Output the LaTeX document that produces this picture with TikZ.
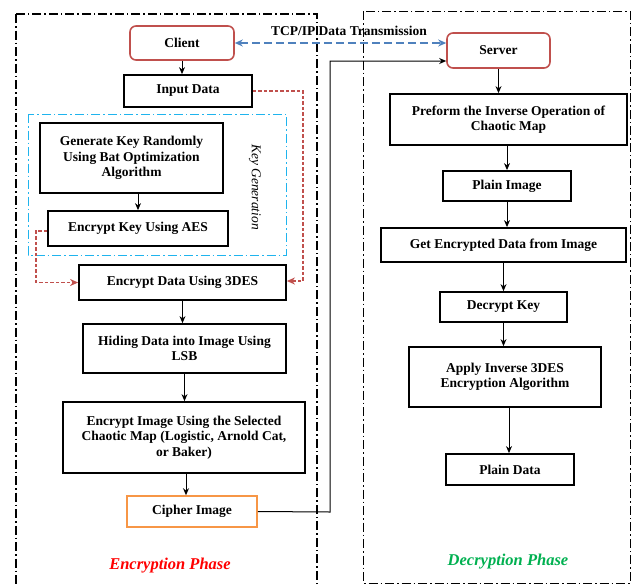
\documentclass[tikz,border=0pt]{standalone}
\usepackage{fontspec}
\setmainfont{Liberation Serif}
\usetikzlibrary{arrows.meta,calc}
\definecolor{boxred}{HTML}{C0504D}
\definecolor{boxorange}{HTML}{F79646}
\definecolor{linkblue}{HTML}{4F81BD}
\definecolor{kgcyan}{HTML}{1FB4EE}
\definecolor{phasered}{HTML}{FF0000}
\definecolor{phasegreen}{HTML}{00B050}
\newcommand\fsz{\fontsize{13.5}{15.5}\selectfont}
\tikzset{
  stepbox/.style={draw, line width=1.8pt, inner sep=0pt, align=center, font=\fsz\bfseries},
  endbox/.style={stepbox, draw=boxred, line width=1.6pt, rounded corners=6pt},
  cipherbox/.style={stepbox, draw=boxorange, line width=1.6pt},
  flow/.style={line width=1pt, -{Stealth[length=7pt,width=6pt]}},
  keyflow/.style={draw=boxred, line width=1.3pt, dash pattern=on 3.5pt off 2pt, -{Stealth[length=8pt,width=7pt]}},
  netflow/.style={draw=linkblue, line width=1.2pt, dash pattern=on 8pt off 4pt, {Stealth[length=8pt,width=7pt]}-{Stealth[length=8pt,width=7pt]}},
  frame/.style={line width=1.2pt, dash pattern=on 9pt off 3pt on 1.5pt off 3pt},
  phase/.style={font=\fontsize{16.5}{18}\selectfont\bfseries\itshape}
}
\begin{document}
\begin{tikzpicture}[x=1pt,y=-1pt]
\clip (0,0) rectangle (634,584);
% frames
\draw[frame] (16,14) rectangle (317,600);
\draw[frame, line width=1pt] (363,11) rectangle (630,583);
\draw[draw=kgcyan, line width=1pt, dash pattern=on 9pt off 3pt on 1.5pt off 3pt] (28,114) rectangle (286,255);
\node[font=\fsz\itshape, rotate=-90] (kglabel) at (255,187) {Key Generation};

% encryption side
\node[endbox, minimum width=104pt, minimum height=34pt] (client) at (182,43) {Client};
\node[stepbox, minimum width=128pt, minimum height=32pt] (input) at (188,91) {Input Data};
\node[stepbox, minimum width=183pt, minimum height=70pt] (gen) at (131.5,158) {Generate Key Randomly\\Using Bat Optimization\\Algorithm};
\node[stepbox, minimum width=180pt, minimum height=35pt] (aes) at (138,228.5) {Encrypt Key Using AES};
\node[stepbox, minimum width=207pt, minimum height=35pt] (des) at (182.5,282.5) {Encrypt Data Using 3DES};
\node[stepbox, minimum width=203pt, minimum height=49pt] (hide) at (184.5,348.5) {Hiding Data into Image Using\\LSB};
\node[stepbox, minimum width=242pt, minimum height=71pt] (encimg) at (184,437.5) {Encrypt Image Using the Selected\\Chaotic Map (Logistic, Arnold Cat,\\or Baker)};
\node[cipherbox, minimum width=130pt, minimum height=31pt] (cipher) at (192,511.5) {Cipher Image};
\node[phase, text=phasered] (encphase) at (170,566) {Encryption Phase};

% decryption side
\node[endbox, minimum width=103pt, minimum height=35pt] (server) at (498.5,50.5) {Server};
\node[stepbox, minimum width=237pt, minimum height=51pt] (inv) at (508.5,119.5) {Preform the Inverse Operation of\\Chaotic Map};
\node[stepbox, minimum width=128pt, minimum height=30pt] (plainimg) at (507,186) {Plain Image};
\node[stepbox, minimum width=245pt, minimum height=34pt] (getenc) at (503.5,245) {Get Encrypted Data from Image};
\node[stepbox, minimum width=127pt, minimum height=30pt] (deckey) at (503.5,307) {Decrypt Key};
\node[stepbox, minimum width=192pt, minimum height=60pt] (apply) at (505,377) {Apply Inverse 3DES\\Encryption Algorithm};
\node[stepbox, minimum width=128pt, minimum height=31pt] (plaindata) at (510,469.5) {Plain Data};
\node[phase, text=phasegreen] (decphase) at (508,562) {Decryption Phase};

\node[font=\fsz\bfseries] (tcp) at (349,31) {TCP/IP Data Transmission};

% connectors
\draw[flow] (client) -- (client |- input.north);
\draw[flow] (aes.north |- gen.south) -- (aes.north);
\draw[flow] (des) -- (des |- hide.north);
\draw[flow] (hide) -- (hide |- encimg.north);
\draw[flow] ([xshift=2pt]encimg.south) -- ([xshift=2pt]encimg.south |- cipher.north);
\draw[flow] (server) -- (server |- inv.north);
\draw[flow] (plainimg.north |- inv.south) -- (plainimg.north);
\draw[flow] (plainimg) -- (plainimg |- getenc.north);
\draw[flow] (deckey.north |- getenc.south) -- (deckey.north);
\draw[flow] (deckey) -- (deckey |- apply.north);
\draw[flow] ([xshift=4pt]apply.south) -- ([xshift=4pt]apply.south |- plaindata.north);

\draw[keyflow] (input.east) -- (303,91) |- ([yshift=1.5pt]des.east);
\draw[keyflow] ([yshift=-2.5pt]aes.west) -- (36,231) |- (des.west);

\draw[netflow] (client.east) -- (server.west |- client.east);
\draw[line width=1pt, -{Stealth[length=7pt,width=6pt]}] (cipher.east) -- (330,512) |- ([yshift=-10.5pt]server.west);
\end{tikzpicture}
\end{document}
